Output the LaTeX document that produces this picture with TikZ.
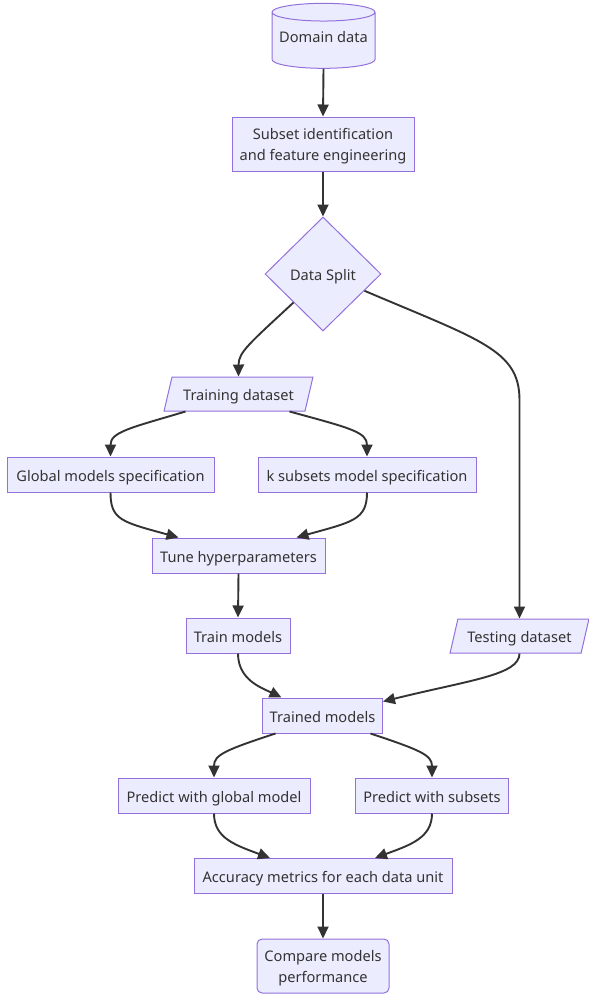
\documentclass[tikz,border=0pt]{standalone}
\usepackage{fontspec}
\setmainfont{Noto Sans}
\usetikzlibrary{shapes.geometric}
\usetikzlibrary{arrows.meta}
\usetikzlibrary{calc}
\definecolor{boxfill}{HTML}{ECECFF}
\definecolor{boxline}{HTML}{9370DB}
\definecolor{ink}{HTML}{333333}
\newcommand\flowfont{\fontsize{14.6}{21}\selectfont}

\begin{document}
\begin{tikzpicture}[x=1pt,y=1pt,yscale=-1,xscale=1,
  box/.style={draw=boxline,fill=boxfill,text=ink,line width=1pt,inner sep=0pt,align=center,font=\flowfont,text height=13pt,text depth=0pt},
  twoline/.style={text height=32pt,text depth=0pt,minimum height=54},
  proc/.style={box,rectangle,minimum height=35},
  data/.style={box,trapezium,trapezium stretches=true,trapezium left angle=63,trapezium right angle=117,minimum height=34},
  flow/.style={draw=ink,line width=1.9pt,-{Triangle[length=12pt,width=11pt]}}]
\useasboundingbox (0,0) rectangle (589,996);

%Shape: Cylinder
\node[box,cylinder,shape border rotate=90,aspect=0.2,minimum width=103,minimum height=65,text height=4pt] (dom) at (323.5,40.5) {Domain data};
%Shape: Rectangle
\node[proc,twoline,minimum width=182] (sub) at (323,144) {Subset identification\\and feature engineering};
%Shape: Diamond
\node[box,diamond,minimum width=116,minimum height=114] (split) at (323,274) {Data Split};
%Shape: Parallelogram
\node[data,minimum width=149] (training) at (238.5,394) {Training dataset};
\node[data,minimum width=139] (test) at (519.5,636) {Testing dataset};
%Shape: Rectangle
\node[proc,minimum width=207] (glob) at (110.5,474.5) {Global models specification};
\node[proc,minimum width=218] (ksub) at (367,474.5) {k subsets model specification};
\node[proc,minimum width=173] (tune) at (238.5,555.5) {Tune hyperparameters};
\node[proc,minimum width=104] (train) at (238,635.5) {Train models};
\node[proc,minimum width=120] (trained) at (322.5,715.5) {Trained models};
\node[proc,minimum width=192] (pglob) at (214,795.5) {Predict with global model};
\node[proc,minimum width=153] (psub) at (432,795.5) {Predict with subsets};
\node[proc,minimum width=258] (acc) at (323,876) {Accuracy metrics for each data unit};
\node[proc,twoline,rounded corners=5,minimum width=132] (cmp) at (323,966) {Compare models\\performance};

% Connectors
\draw[flow] (dom.south) -- (sub.north);
\draw[flow] (sub.south) -- (split.north);
\draw[flow] (split.-136) .. controls (250,343) and (238.5,352) .. (training.north);
\draw[flow] (split.-22.5) .. controls (480,340) and (519.5,350) .. (519.5,400) -- (test.north);
\draw[flow] ($(training.south)+(-53,0)$) .. controls (130,428) and (110.5,432) .. (glob.north);
\draw[flow] ($(training.south)+(51,0)$) .. controls (350,428) and (367,432) .. (ksub.north);
\draw[flow] (glob.south) .. controls (110.5,520) and (122,522) .. ($(tune.north)+(-60,0)$);
\draw[flow] (ksub.south) .. controls (367,520) and (352,522) .. ($(tune.north)+(58,0)$);
\draw[flow] (tune.south) -- (train.north);
\draw[flow] (train.south) .. controls (238,680) and (262,688) .. ($(trained.north)+(-41,0)$);
\draw[flow] (test.south) .. controls (519.5,675) and (470,680) .. ($(trained.east)+(0,-14)$);
\draw[flow] ($(trained.south)+(-47,0)$) .. controls (225,750) and (214,755) .. (pglob.north);
\draw[flow] ($(trained.south)+(48,0)$) .. controls (420,750) and (432,755) .. (psub.north);
\draw[flow] (pglob.south) .. controls (214,838) and (235,845) .. ($(acc.north)+(-53,0)$);
\draw[flow] (psub.south) .. controls (432,838) and (410,845) .. ($(acc.north)+(52,0)$);
\draw[flow] (acc.south) -- (cmp.north);

\end{tikzpicture}
\end{document}
